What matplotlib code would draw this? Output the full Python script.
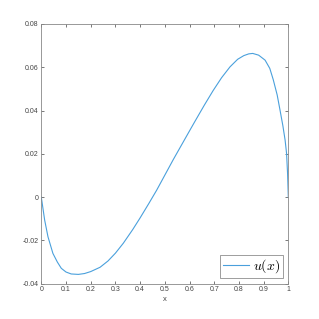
import numpy as np
import matplotlib
matplotlib.use('Agg')
import matplotlib.pyplot as plt
from matplotlib.ticker import FormatStrFormatter

plt.rcParams['mathtext.fontset'] = 'cm'
plt.rcParams['font.family'] = ['Liberation Sans', 'DejaVu Sans']

# values
x_vals = [0, 0.0136, 0.027, 0.047, 0.065, 0.081, 0.100, 0.121, 0.150, 0.175,
          0.200, 0.238, 0.270, 0.300, 0.332, 0.370, 0.400, 0.435, 0.467, 0.535,
          0.602, 0.622, 0.660, 0.696, 0.730, 0.764, 0.795, 0.820, 0.840, 0.856,
          0.880, 0.906, 0.925, 0.939, 0.955, 0.966, 0.978, 0.987, 0.993, 0.997, 1.0]
u_vals = [0, -0.0106, -0.0183, -0.0260, -0.0300, -0.0329, -0.0346, -0.0355, -0.0357, -0.0353,
          -0.0344, -0.0324, -0.0295, -0.0259, -0.0213, -0.0150, -0.0096, -0.0030, 0.0032, 0.0175,
          0.0310, 0.0350, 0.0425, 0.0493, 0.0552, 0.0602, 0.0637, 0.0654, 0.0662, 0.0664,
          0.0656, 0.0633, 0.0595, 0.0543, 0.0472, 0.0405, 0.0330, 0.0264, 0.0202, 0.0110, 0]

x_ticks = np.arange(0, 1.01, 0.1)
y_ticks = [-0.04, -0.02, 0, 0.02, 0.04, 0.06, 0.08]

fig = plt.figure(figsize=(3.19, 3.19), dpi=100)
ax = fig.add_axes([41.3 / 319, 35.3 / 319, 247 / 319, 259.7 / 319])

ax.plot(x_vals, u_vals, color='#4aa0dc', linewidth=0.8, label='$u(x)$')

ax.set_xlim(0, 1)
ax.set_ylim(-0.04, 0.08)
ax.set_xticks(x_ticks)
ax.set_yticks(y_ticks)
ax.xaxis.set_major_formatter(FormatStrFormatter('%g'))
ax.yaxis.set_major_formatter(FormatStrFormatter('%g'))
ax.tick_params(direction='in', length=2.5, width=0.5, labelsize=5,
               colors='#444444', top=True, right=True, pad=2)
for s in ax.spines.values():
    s.set_color('#888888')
    s.set_linewidth(0.6)

ax.set_xlabel('x', fontsize=5.5, color='#444444', labelpad=2)

leg = ax.legend(loc='lower right', fontsize=10, frameon=True, fancybox=False,
                handlelength=1.9, borderpad=0.2, handletextpad=0.25,
                borderaxespad=0.4)
leg.get_frame().set_edgecolor('#555555')
leg.get_frame().set_linewidth(0.5)

plt.savefig('out.png', dpi=100)
